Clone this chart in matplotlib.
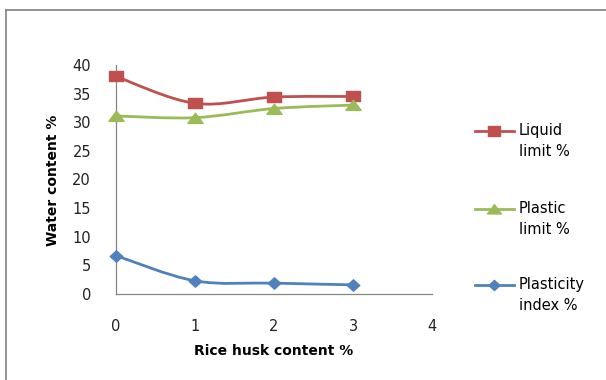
import numpy as np
import matplotlib
matplotlib.use("Agg")
import matplotlib.pyplot as plt
from matplotlib.path import Path
from matplotlib.patches import PathPatch
from matplotlib.lines import Line2D

plt.rcParams['font.family'] = ['DejaVu Sans']

# data
rice_husk = [0, 1, 2, 3]
liquid_limit = [38.0, 33.3, 34.4, 34.5]
plastic_limit = [31.1, 30.8, 32.4, 33.0]
plasticity_index = [6.7, 2.3, 1.9, 1.6]

# slightly wide marker shapes
wide_square = Path([(-0.64, -0.5), (0.64, -0.5), (0.64, 0.5), (-0.64, 0.5),
                    (-0.64, -0.5)], closed=True)
wide_triangle = Path([(-0.75, -0.48), (0.75, -0.48), (0, 0.52), (-0.75, -0.48)],
                     closed=True)
wide_diamond = Path([(-0.55, 0), (0, -0.5), (0.55, 0), (0, 0.5), (-0.55, 0)],
                    closed=True)

series = [
    ("Liquid\nlimit %", liquid_limit, "#C0504D", wide_square, 10),
    ("Plastic\nlimit %", plastic_limit, "#9BBB59", wide_triangle, 11),
    ("Plasticity\nindex %", plasticity_index, "#4F81BD", wide_diamond, 9),
]


def smooth_path(x, y):
    # cubic bezier through the points, catmull-rom style control points
    pts = np.column_stack([x, y]).astype(float)
    n = len(pts)
    verts = [pts[0]]
    codes = [Path.MOVETO]
    for i in range(n - 1):
        p0 = pts[max(i - 1, 0)]
        p1 = pts[i]
        p2 = pts[i + 1]
        p3 = pts[min(i + 2, n - 1)]
        c1 = p1 + (p2 - p0) / 6.0
        c2 = p2 - (p3 - p1) / 6.0
        verts += [c1, c2, p2]
        codes += [Path.CURVE4] * 3
    return Path(verts, codes)


fig = plt.figure(figsize=(6.06, 3.8), dpi=100)
ax = fig.add_axes([116 / 606, 1 - 294 / 380, 316 / 606, 229 / 380])

for label, vals, color, marker, ms in series:
    ax.add_patch(PathPatch(smooth_path(rice_husk, vals), facecolor="none",
                           edgecolor=color, lw=2.0, zorder=2))
    ax.plot(rice_husk, vals, linestyle="none", marker=marker, ms=ms,
            color=color, zorder=3, clip_on=False)

ax.set_xlim(0, 4)
ax.set_ylim(0, 40)
ax.set_xticks([0, 1, 2, 3, 4])
ax.set_yticks(range(0, 41, 5))
ax.tick_params(length=0, labelsize=10.5, labelcolor="#222222")
ax.tick_params(axis="x", pad=18)
ax.tick_params(axis="y", pad=18)
for side in ["top", "right"]:
    ax.spines[side].set_visible(False)
for side in ["left", "bottom"]:
    ax.spines[side].set_color("#868686")
    ax.spines[side].set_linewidth(0.9)

fig.text(274 / 606, 1 - 351 / 380, "Rice husk content %", ha="center",
         va="center", fontsize=10, fontweight="bold")
fig.text(53 / 606, 1 - 180 / 380, "Water content %", ha="center",
         va="center", rotation=90, fontsize=10, fontweight="bold")

# legend drawn by hand so the handle sits on the first text line
legend_y = [131, 209, 285]
for (label, vals, color, marker, ms), yp in zip(series, legend_y):
    y = 1 - yp / 380
    fig.add_artist(Line2D([475 / 606, 514 / 606], [y, y], color=color, lw=2.0,
                          transform=fig.transFigure))
    fig.add_artist(Line2D([494 / 606], [y], color=color, marker=marker,
                          ms=ms - 1, transform=fig.transFigure))
    fig.text(519 / 606, y + 8 / 380, label, ha="left", va="top",
             fontsize=10.5, linespacing=1.5)

# outer frame
fig.add_artist(Line2D([5.5 / 606, 1.0], [1 - 9.5 / 380] * 2, color="#8a8a8a",
                      lw=1.3, transform=fig.transFigure))
fig.add_artist(Line2D([5.5 / 606] * 2, [0, 1 - 9.5 / 380], color="#8a8a8a",
                      lw=1.3, transform=fig.transFigure))

fig.savefig("out.png", dpi=100)
